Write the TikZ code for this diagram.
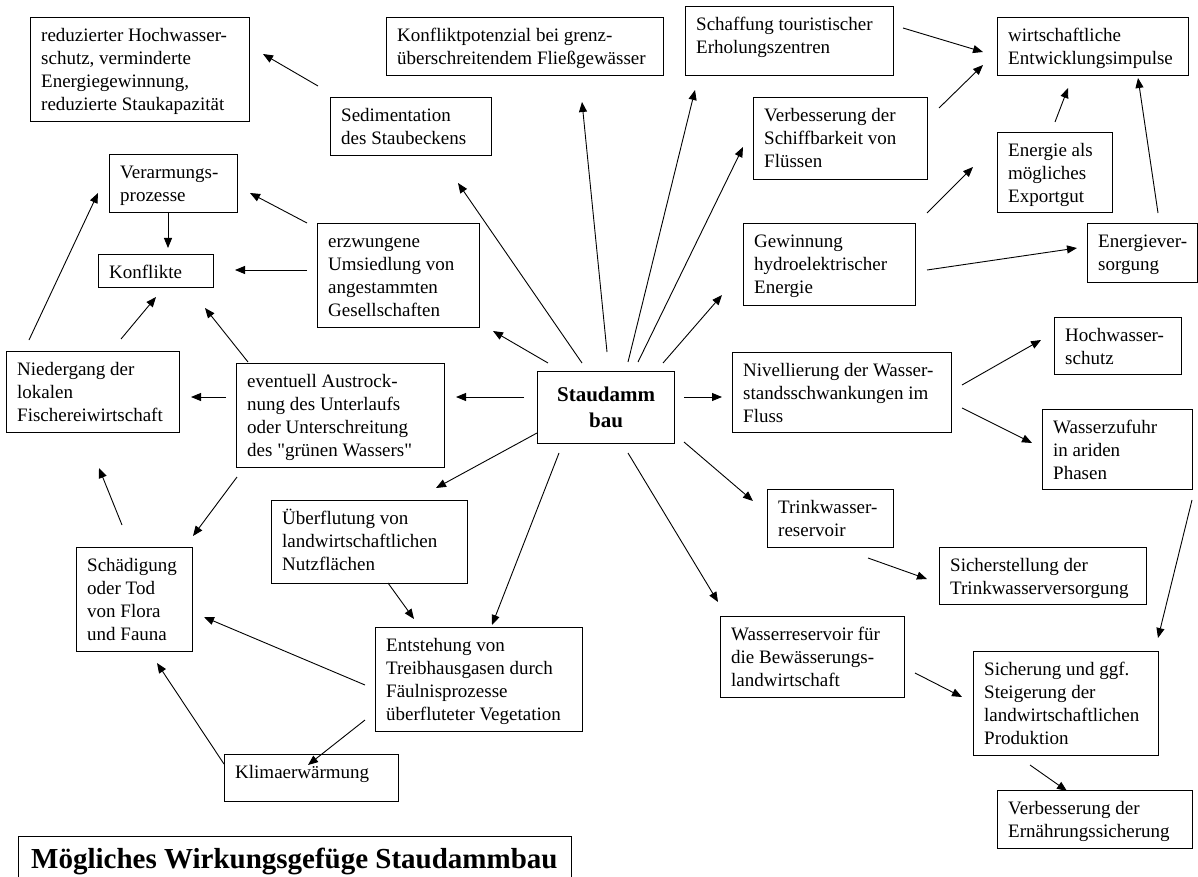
\documentclass[tikz,border=0pt]{standalone}
\usepackage{fontspec}
\setmainfont{Liberation Serif}
\usetikzlibrary{arrows.meta}
\tikzset{
  box/.style={draw=black, line width=1.2pt, inner sep=0pt, anchor=north west, fill=white},
  txt/.style={inner sep=0pt, anchor=north west, font=\fontsize{19}{23}\selectfont},
  arr/.style={line width=0.9pt, -{Triangle[length=10pt,width=8pt]}},
}
\newcommand{\mybox}[6]{%
  \node[box, minimum width=#4pt, minimum height=#5pt] (#1) at (#2,#3) {};
  \node[txt] (#1t) at ([shift={(11,8)}]#1.north west) {\begin{tabular}{@{}l@{}}#6\end{tabular}};}
\newcommand{\arw}[6]{\draw[arr] ([shift={(#2,#3)}]#1.north west) -- ([shift={(#5,#6)}]#4.north west);}
\begin{document}
\begin{tikzpicture}[x=1pt,y=-1pt]
\useasboundingbox[fill=white] (0,0) rectangle (1198,877);
% boxes
\mybox{red}{30}{17}{219}{104}{reduzierter Hochwasser-\\schutz, verminderte\\Energiegewinnung,\\reduzierte Staukapazität}
\mybox{sed}{330}{97}{161}{58}{Sedimentation\\des Staubeckens}
\mybox{konf}{386}{17}{277}{58}{Konfliktpotenzial bei grenz-\\überschreitendem Fließgewässer}
\mybox{schaff}{685}{6}{208}{69}{Schaffung touristischer\\Erholungszentren}
\mybox{wirt}{997}{17}{191}{58}{wirtschaftliche\\Entwicklungsimpulse}
\mybox{schiff}{753}{97}{174}{82}{Verbesserung der\\Schiffbarkeit von\\Flüssen}
\mybox{export}{997}{132}{115}{80}{Energie als\\mögliches\\Exportgut}
\mybox{gew}{743}{223}{172}{82}{Gewinnung\\hydroelektrischer\\Energie}
\mybox{versorg}{1087}{223}{110}{59}{Energiever-\\sorgung}
\mybox{verarm}{109}{154}{128}{58}{Verarmungs-\\prozesse}
\mybox{konfl}{98}{254}{115}{33}{Konflikte}
\mybox{erzw}{317}{223}{162}{104}{erzwungene\\Umsiedlung von\\angestammten\\Gesellschaften}
\mybox{nied}{6}{351}{173}{81}{Niedergang der\\lokalen\\Fischereiwirtschaft}
\mybox{event}{236}{363}{208}{104}{eventuell Austrock-\\nung des Unterlaufs\\oder Unterschreitung\\des \textquotedbl grünen Wassers\textquotedbl}
\node[box, minimum width=137pt, minimum height=72pt, align=center,
      font=\bfseries\fontsize{21}{26}\selectfont] (stau) at (537,371) {Staudamm\\bau};
\mybox{niv}{732}{352}{219}{80}{Nivellierung der Wasser-\\standsschwankungen im\\Fluss}
\mybox{hoch}{1054}{317}{127}{57}{Hochwasser-\\schutz}
\mybox{zufuhr}{1042}{409}{150}{80}{Wasserzufuhr\\in ariden\\Phasen}
\mybox{trink}{767}{489}{126}{58}{Trinkwasser-\\reservoir}
\mybox{sicherst}{939}{547}{207}{57}{Sicherstellung der\\Trinkwasserversorgung}
\mybox{ueber}{271}{500}{196}{83}{Überflutung von\\landwirtschaftlichen\\Nutzflächen}
\mybox{schaed}{76}{547}{116}{104}{Schädigung\\oder Tod\\von Flora\\und Fauna}
\mybox{entst}{375}{627}{207}{104}{Entstehung von\\Treibhausgasen durch\\Fäulnisprozesse\\überfluteter Vegetation}
\mybox{klima}{224}{754}{174}{47}{Klimaerwärmung}
\mybox{wres}{720}{616}{184}{81}{Wasserreservoir für\\die Bewässerungs-\\landwirtschaft}
\mybox{sicher}{973}{651}{185}{104}{Sicherung und ggf.\\Steigerung der\\landwirtschaftlichen\\Produktion}
\mybox{ernaehr}{997}{790}{195}{58}{Verbesserung der\\Ernährungssicherung}
\node[box, minimum width=553pt, minimum height=46pt] (title) at (18,836) {};
\node[inner sep=0pt, anchor=base west, font=\bfseries\fontsize{29}{32}\selectfont] (titlet)
  at ([shift={(13,32)}]title.north west) {Mögliches Wirkungsgefüge Staudammbau};
% arrows
\arw{sed}{-12}{-11}{red}{233}{37}
\arw{stau}{45}{-8}{sed}{128}{86}
\arw{stau}{70}{-19}{konf}{196}{85}
\arw{stau}{91}{-9}{schaff}{10}{84}
\arw{stau}{101}{-9}{schiff}{-10}{50}
\arw{stau}{126}{-8}{gew}{-21}{72}
\arw{schaff}{218}{22}{wirt}{-14}{35}
\arw{schiff}{186}{11}{wirt}{-14}{48}
\arw{export}{58}{-10}{wirt}{71}{71}
\arw{versorg}{71}{-10}{wirt}{141}{61}
\arw{gew}{184}{-10}{export}{-24}{35}
\arw{gew}{184}{47}{versorg}{-10}{25}
\arw{verarm}{59}{58}{konfl}{70}{-6}
\arw{erzw}{-10}{0}{verarm}{141}{39}
\arw{erzw}{-10}{47}{konfl}{137}{16}
\arw{nied}{23}{-11}{verarm}{-11}{39}
\arw{nied}{115}{-12}{konfl}{58}{43}
\arw{event}{12}{-1}{konfl}{107}{54}
\arw{event}{-10}{34}{nied}{185}{46}
\arw{stau}{-13}{26}{event}{220}{34}
\arw{stau}{11}{-8}{erzw}{176}{108}
\arw{stau}{147}{26}{niv}{-10}{45}
\arw{stau}{0}{62}{ueber}{165}{-12}
\arw{stau}{22}{82}{entst}{117}{-2}
\arw{stau}{91}{82}{wres}{-2}{-14}
\arw{stau}{147}{71}{trink}{-14}{12}
\arw{niv}{230}{33}{hoch}{-13}{23}
\arw{niv}{230}{56}{zufuhr}{-10}{34}
\arw{zufuhr}{150}{91}{sicher}{185}{-13}
\arw{trink}{101}{69}{sicherst}{-12}{32}
\arw{wres}{195}{57}{sicher}{-11}{46}
\arw{sicher}{57}{114}{ernaehr}{70}{1}
\arw{event}{1}{114}{schaed}{117}{-11}
\arw{schaed}{46}{-22}{nied}{93}{117}
\arw{ueber}{117}{83}{entst}{39}{-8}
\arw{entst}{-10}{58}{schaed}{128}{70}
\arw{entst}{-10}{93}{klima}{84}{11}
\arw{klima}{0}{10}{schaed}{81}{116}
\end{tikzpicture}
\end{document}
